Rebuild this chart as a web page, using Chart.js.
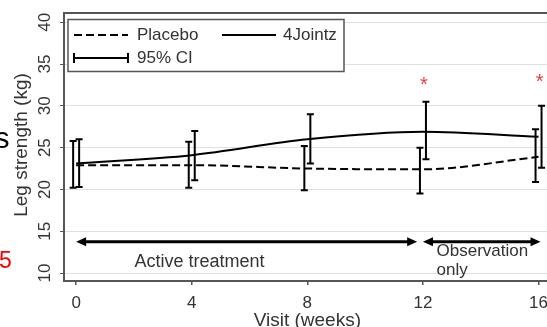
<!DOCTYPE html>
<html>
<head>
<meta charset="utf-8">
<script src="https://cdn.jsdelivr.net/npm/chart.js@4"></script>
<style>
html,body{margin:0;padding:0;background:#fff;overflow:hidden;}
#wrap{position:relative;width:553px;height:327px;}
</style>
</head>
<body>
<div id="wrap"><canvas id="c" width="553" height="327"></canvas></div>
<script>
// ---- data ----
const weeks = [0, 4, 8, 12, 16];
const placeboMean = [22.9, 22.9, 22.5, 22.4, 23.9];
const placeboLow  = [20.2, 20.2, 19.9, 19.5, 20.9];
const placeboHigh = [25.8, 25.7, 25.2, 25.0, 27.2];
const jointzMean  = [23.1, 24.1, 26.0, 26.9, 26.3];
const jointzLow   = [20.3, 21.1, 23.1, 23.6, 22.6];
const jointzHigh  = [26.0, 27.0, 29.0, 30.5, 30.0];
const yTicks = [10, 15, 20, 25, 30, 35, 40];
const xTicks = [0, 4, 8, 12, 16];
const seriesNames = ['Placebo', '4Jointz'];
const ciLabel = '95% CI';
const starWeeks = [12, 16];
const starValues = [32.9, 33.3];
const periodLabels = [['Active treatment'], ['Observation', 'only']];
const periodFrom = [0, 12.0];
const periodTo = [11.8, 16.07];
const periodArrowValue = 13.75;
const periodTextWeek = [4.27, 12.47];
const periodTextValue = [11.35, 12.55];
const xTitle = 'Visit (weeks)';
const yTitle = 'Leg strength (kg)';

const FONT = "'Liberation Sans', Arial, sans-serif";
const TXT = '#333';

const custom = {
  id: 'custom',
  beforeDatasetsDraw(chart) {
    const {ctx, chartArea: a} = chart;
    ctx.save();
    ctx.strokeStyle = '#555';
    ctx.lineWidth = 2;
    ctx.strokeRect(a.left, a.top, a.right - a.left + 20, a.bottom - a.top);
    ctx.restore();
  },
  afterDatasetsDraw(chart) {
    const {ctx, chartArea: a} = chart;
    const xs = chart.scales.x, ys = chart.scales.y;
    ctx.save();
    // error bars
    const sets = [[placeboLow, placeboHigh, -3], [jointzLow, jointzHigh, 3]];
    ctx.strokeStyle = '#000';
    ctx.lineWidth = 2;
    sets.forEach(([lo, hi, off]) => {
      weeks.forEach((w, i) => {
        const x = xs.getPixelForValue(w) + off;
        const y1 = ys.getPixelForValue(lo[i]), y2 = ys.getPixelForValue(hi[i]);
        ctx.beginPath();
        ctx.moveTo(x, y1); ctx.lineTo(x, y2);
        ctx.moveTo(x - 3.5, y1); ctx.lineTo(x + 3.5, y1);
        ctx.moveTo(x - 3.5, y2); ctx.lineTo(x + 3.5, y2);
        ctx.stroke();
      });
    });
    // period arrows
    const ay = ys.getPixelForValue(periodArrowValue);
    periodFrom.forEach((f, i) => {
      const x1 = xs.getPixelForValue(f), x2 = xs.getPixelForValue(periodTo[i]);
      ctx.lineWidth = 3;
      ctx.beginPath(); ctx.moveTo(x1 + 6, ay); ctx.lineTo(x2 - 6, ay); ctx.stroke();
      ctx.fillStyle = '#000';
      ctx.beginPath(); ctx.moveTo(x1, ay); ctx.lineTo(x1 + 10, ay - 4.5); ctx.lineTo(x1 + 10, ay + 4.5); ctx.closePath(); ctx.fill();
      ctx.beginPath(); ctx.moveTo(x2, ay); ctx.lineTo(x2 - 10, ay - 4.5); ctx.lineTo(x2 - 10, ay + 4.5); ctx.closePath(); ctx.fill();
    });
    // period text
    ctx.fillStyle = TXT;
    ctx.textBaseline = 'middle';
    ctx.font = '18px ' + FONT;
    ctx.textAlign = 'center';
    ctx.fillText(periodLabels[0][0], xs.getPixelForValue(periodTextWeek[0]), ys.getPixelForValue(periodTextValue[0]));
    ctx.font = '17px ' + FONT;
    ctx.textAlign = 'left';
    const ox = xs.getPixelForValue(periodTextWeek[1]);
    const oy = ys.getPixelForValue(periodTextValue[1]);
    periodLabels[1].forEach((t, k) => ctx.fillText(t, ox, oy + k * 18.5));
    // stars
    ctx.fillStyle = '#f23c3c';
    ctx.font = '20px ' + FONT;
    ctx.textAlign = 'center';
    starWeeks.forEach((w, i) => {
      ctx.fillText('*', xs.getPixelForValue(w) + 1, ys.getPixelForValue(starValues[i]) + 4);
    });
    ctx.restore();
  },
  afterDraw(chart) {
    const {ctx, chartArea: a} = chart;
    const xs = chart.scales.x, ys = chart.scales.y;
    ctx.save();
    // y tick labels rotated
    ctx.fillStyle = TXT;
    ctx.font = '17px ' + FONT;
    ctx.textAlign = 'center';
    ctx.textBaseline = 'alphabetic';
    yTicks.forEach(v => {
      ctx.save();
      ctx.translate(50, ys.getPixelForValue(v));
      ctx.rotate(-Math.PI / 2);
      ctx.fillText(String(v), 0, 0);
      ctx.restore();
    });
    // y title
    ctx.font = '19px ' + FONT;
    ctx.save();
    ctx.translate(27, 145);
    ctx.rotate(-Math.PI / 2);
    ctx.fillText(yTitle, 0, 0);
    ctx.restore();
    // x title
    ctx.fillText(xTitle, xs.getPixelForValue(8), 326);
    // legend
    ctx.fillStyle = '#fff';
    ctx.fillRect(68, 19.5, 276, 52);
    ctx.strokeStyle = '#555';
    ctx.lineWidth = 1.5;
    ctx.strokeRect(68, 19.5, 276, 52);
    ctx.strokeStyle = '#000';
    ctx.lineWidth = 2;
    ctx.setLineDash([8, 4]);
    ctx.beginPath(); ctx.moveTo(74, 35); ctx.lineTo(128, 35); ctx.stroke();
    ctx.setLineDash([]);
    ctx.beginPath(); ctx.moveTo(222, 35); ctx.lineTo(276, 35); ctx.stroke();
    ctx.beginPath();
    ctx.moveTo(74, 58); ctx.lineTo(128, 58);
    ctx.moveTo(74, 53); ctx.lineTo(74, 63);
    ctx.moveTo(128, 53); ctx.lineTo(128, 63);
    ctx.stroke();
    ctx.fillStyle = TXT;
    ctx.font = '17px ' + FONT;
    ctx.textAlign = 'left';
    ctx.textBaseline = 'middle';
    ctx.fillText(seriesNames[0], 137, 35);
    ctx.fillText(seriesNames[1], 283, 35);
    ctx.fillText(ciLabel, 137, 58);
    // cropped fragments of surrounding figure
    ctx.textBaseline = 'alphabetic';
    ctx.fillStyle = '#000';
    ctx.font = '29px ' + FONT;
    ctx.fillText('s', -5, 148);
    ctx.fillStyle = '#ff0000';
    ctx.font = '23px ' + FONT;
    ctx.fillText('5', -1, 268);
    ctx.restore();
  }
};

new Chart(document.getElementById('c'), {
  type: 'line',
  data: {
    datasets: [
      {
        label: seriesNames[0],
        data: weeks.map((w, i) => ({x: w, y: placeboMean[i]})),
        borderColor: '#000', borderWidth: 2, borderDash: [8, 4],
        pointRadius: 0, cubicInterpolationMode: 'monotone', fill: false
      },
      {
        label: seriesNames[1],
        data: weeks.map((w, i) => ({x: w, y: jointzMean[i]})),
        borderColor: '#000', borderWidth: 2,
        pointRadius: 0, cubicInterpolationMode: 'monotone', fill: false
      }
    ]
  },
  options: {
    responsive: false,
    animation: false,
    devicePixelRatio: 1,
    layout: {padding: {top: 13, right: 0, left: 0, bottom: 0}, autoPadding: false},
    plugins: {legend: {display: false}, tooltip: {enabled: false}},
    scales: {
      x: {
        type: 'linear', min: -0.42, max: 16.5,
        afterBuildTicks: s => { s.ticks = xTicks.map(v => ({value: v})); },
        afterFit: s => { s.height = 46; s.paddingLeft = 0; s.paddingRight = 0; },
        grid: {drawOnChartArea: false, tickLength: 4, tickColor: '#555', lineWidth: 1.5},
        border: {display: false},
        ticks: {color: TXT, font: {family: FONT, size: 17}, padding: 8, maxRotation: 0}
      },
      y: {
        min: 9.05, max: 41.1,
        afterBuildTicks: s => { s.ticks = yTicks.map(v => ({value: v})); },
        afterFit: s => { s.width = 64; s.paddingTop = 0; s.paddingBottom = 0; },
        grid: {color: '#e0e0e0', lineWidth: 1, tickLength: 4, tickColor: '#555'},
        border: {display: false},
        ticks: {display: false}
      }
    }
  },
  plugins: [custom]
});
</script>
</body>
</html>
